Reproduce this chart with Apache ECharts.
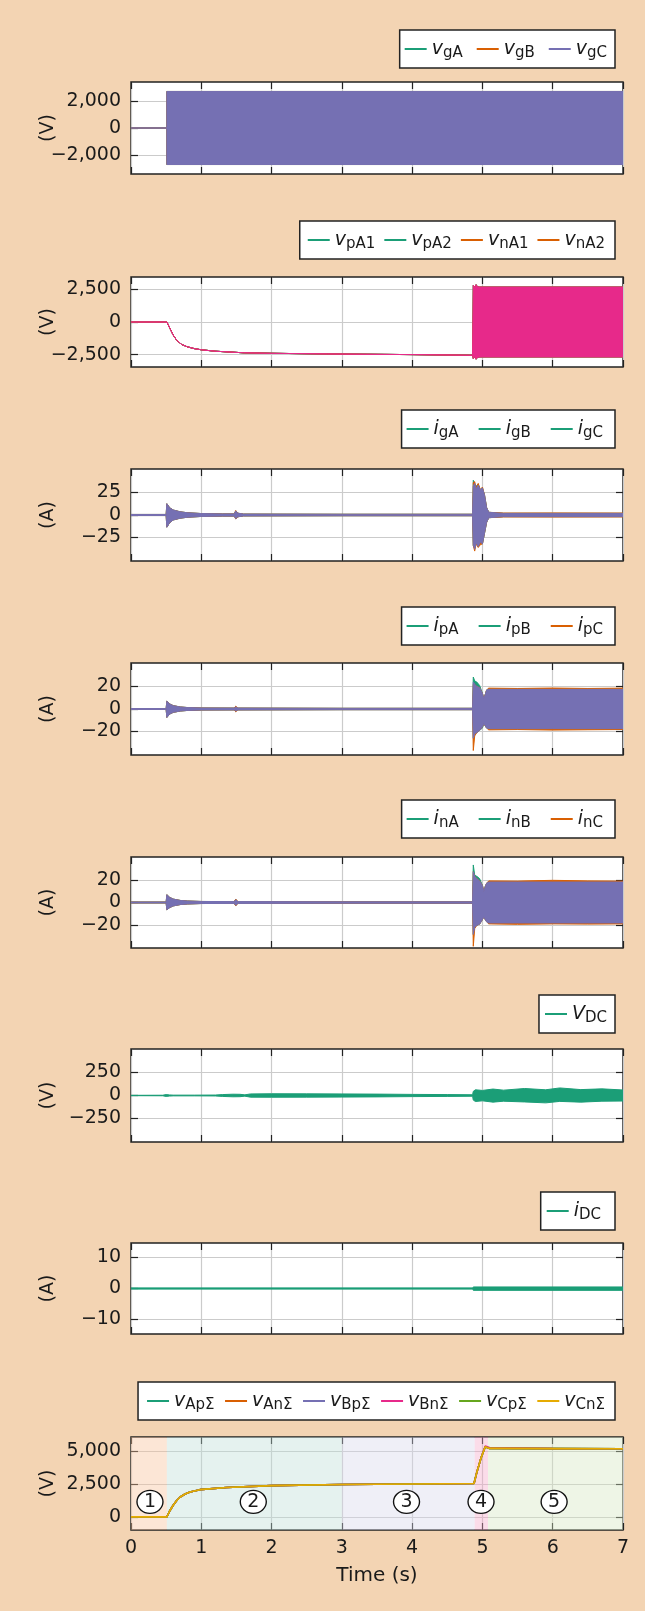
<!DOCTYPE html>
<html>
<head>
<meta charset="utf-8">
<script src="https://cdn.jsdelivr.net/npm/echarts@6/dist/echarts.min.js"></script>
<style>
html,body{margin:0;padding:0;background:#f3d4b3;}
#c{width:645px;height:1611px;}
</style>
</head>
<body>
<div id="c"></div>
<script>
// ================= DATA =================
const timeTicks = [0, 1, 2, 3, 4, 5, 6, 7];

// Panel 1: grid voltages (envelope of the 50 Hz waveform)
const vgT  = [0, 0.51, 0.51, 7];
const vgHi = [0, 0, 2700, 2700];
const vgLo = [0, 0, -2700, -2700];
const vgTicks = [-2000, 0, 2000];

// Panel 2: submodule voltages
const vmT  = [0, 0.51, 0.55, 0.6, 0.65, 0.72, 0.8, 0.9, 1.0, 1.2, 1.6, 2.0, 2.8, 4.0, 4.86, 4.87, 4.89, 4.91, 4.93, 4.96, 7];
const vmHi = [0, 0, -450, -1000, -1400, -1720, -1900, -2040, -2130, -2240, -2360, -2400, -2450, -2500, -2550, 2820, 2650, 2860, 2700, 2680, 2680];
const vmLo = [0, 0, -450, -1000, -1400, -1720, -1900, -2040, -2130, -2240, -2360, -2400, -2450, -2500, -2550, -2800, -2650, -2850, -2720, -2680, -2680];
const vmTicks = [-2500, 0, 2500];

// Panel 3: grid currents
const igT   = [0, 0.5, 0.51, 0.55, 0.6, 0.7, 0.8, 1.0, 1.3, 1.47, 1.49, 1.52, 1.6, 3.0, 4.86, 4.87, 4.89, 4.91, 4.94, 4.97, 5.0, 5.03, 5.06, 5.09, 5.3, 6.0, 7];
const igAHi = [0.6, 0.6, 12.5, 8, 5.5, 3.5, 2.5, 1.6, 1.2, 1.2, 4.5, 2, 1, 0.8, 0.8, 38.5, 34, 32, 34, 28, 30, 22, 8, 3, 1.8, 1.8, 1.8];
const igALo = [-0.6, -0.6, -13.5, -8.5, -5.5, -3.5, -2.5, -1.6, -1.2, -1.2, -4, -2, -1, -0.8, -0.8, -34, -36, -31, -35, -30, -32, -20, -8, -3, -1.8, -1.8, -1.8];
const igBHi = [0.6, 0.6, 12.5, 8, 5.5, 3.5, 2.5, 1.6, 1.2, 1.2, 5, 2, 1, 0.8, 0.8, 36, 37, 30, 35, 28, 31, 22, 8, 3, 2.2, 2.3, 2.2];
const igBLo = [-0.6, -0.6, -13.5, -8.5, -5.5, -3.5, -2.5, -1.6, -1.2, -1.2, -4.5, -2, -1, -0.8, -0.8, -34, -40, -32, -36, -33, -32, -20, -8, -3, -2.2, -2.3, -2.2];
const igCHi = [0.6, 0.6, 12.5, 8, 5.5, 3.5, 2.5, 1.6, 1.2, 1.2, 4.5, 2, 1, 0.8, 0.8, 32, 35, 29, 33, 28, 30, 22, 8, 3, 1.8, 1.8, 1.8];
const igCLo = [-0.6, -0.6, -13.5, -8.5, -5.5, -3.5, -2.5, -1.6, -1.2, -1.2, -4, -2, -1, -0.8, -0.8, -33, -38, -31, -35, -30, -32, -20, -8, -3, -1.8, -1.8, -1.8];
const igTicks = [-25, 0, 25];

// Panel 4: upper-arm currents
const ipT   = [0, 0.5, 0.51, 0.55, 0.6, 0.7, 0.8, 1.0, 1.47, 1.49, 1.52, 3.0, 4.86, 4.87, 4.89, 4.92, 4.96, 5.0, 5.02, 5.04, 5.06, 5.09, 5.5, 6.0, 6.5, 7];
const ipAHi = [0.4, 0.4, 7, 4.5, 3, 1.8, 1.3, 0.9, 0.8, 1.8, 0.8, 0.6, 0.6, 28.5, 25, 24, 21, 14, 9, 13, 17, 17.8, 17.8, 17.8, 17.8, 17.8];
const ipALo = [-0.4, -0.4, -7.5, -4.5, -3, -1.8, -1.3, -0.9, -0.8, -1.8, -0.8, -0.6, -0.6, -26, -22, -21, -19, -17, -13, -15, -17, -17.8, -17.8, -17.8, -17.8, -17.8];
const ipBHi = [0.4, 0.4, 7, 4.5, 3, 1.8, 1.3, 0.9, 0.8, 2.5, 0.8, 0.6, 0.6, 22, 22, 20, 19, 14, 9, 13, 17, 18.6, 18.3, 18.7, 18.3, 18.6];
const ipBLo = [-0.4, -0.4, -7.5, -4.5, -3, -1.8, -1.3, -0.9, -0.8, -2.5, -0.8, -0.6, -0.6, -37, -24, -21, -19, -16, -13, -15, -17, -18.6, -18.3, -18.8, -18.5, -18.3];
const ipCHi = [0.4, 0.4, 7, 4.5, 3, 1.8, 1.3, 0.9, 0.8, 1.8, 0.8, 0.6, 0.6, 24, 22, 20, 19, 14, 9, 13, 17, 17.5, 17.5, 17.5, 17.5, 17.5];
const ipCLo = [-0.4, -0.4, -7.5, -4.5, -3, -1.8, -1.3, -0.9, -0.8, -1.8, -0.8, -0.6, -0.6, -26, -22, -21, -19, -16, -13, -15, -17, -17.5, -17.5, -17.5, -17.5, -17.5];
const ipTicks = [-20, 0, 20];

// Panel 5: lower-arm currents
const inT   = [0, 0.5, 0.51, 0.55, 0.6, 0.7, 0.8, 1.0, 1.47, 1.49, 1.52, 3.0, 4.86, 4.87, 4.89, 4.92, 4.96, 5.0, 5.02, 5.04, 5.06, 5.09, 5.5, 6.0, 6.5, 7];
const inAHi = [0.4, 0.4, 6.8, 4.5, 3, 1.8, 1.3, 0.9, 0.8, 2.5, 0.8, 0.6, 0.6, 33, 24, 23, 21, 15, 9.5, 14, 17, 18.3, 18.3, 18.3, 18.3, 18.3];
const inALo = [-0.4, -0.4, -6.4, -4.5, -3, -1.8, -1.3, -0.9, -0.8, -2.5, -0.8, -0.6, -0.6, -28, -22, -20, -19, -15, -12.5, -15, -17, -18.3, -18.3, -18.3, -18.3, -18.3];
const inBHi = [0.4, 0.4, 6.8, 4.5, 3, 1.8, 1.3, 0.9, 0.8, 3, 0.8, 0.6, 0.6, 27, 23, 21, 19, 15, 9.5, 14, 17, 19, 18.8, 19.5, 19, 18.8];
const inBLo = [-0.4, -0.4, -6.4, -4.5, -3, -1.8, -1.3, -0.9, -0.8, -3, -0.8, -0.6, -0.6, -38.5, -23, -20, -19, -15, -12.5, -15, -17, -18.8, -19.2, -18.8, -19, -18.8];
const inCHi = [0.4, 0.4, 6.8, 4.5, 3, 1.8, 1.3, 0.9, 0.8, 2.5, 0.8, 0.6, 0.6, 27, 23, 21, 19, 15, 9.5, 14, 17, 18, 18, 18, 18, 18];
const inCLo = [-0.4, -0.4, -6.4, -4.5, -3, -1.8, -1.3, -0.9, -0.8, -2.5, -0.8, -0.6, -0.6, -28, -22, -20, -19, -15, -12.5, -15, -17, -18, -18, -18, -18, -18];
const inTicks = [-20, 0, 20];

// Panel 6: DC voltage ripple
const vdcT  = [0, 0.45, 0.5, 0.55, 0.6, 0.9, 1.2, 1.3, 1.45, 1.55, 1.62, 1.7, 2.0, 2.5, 3.0, 3.5, 4.0, 4.5, 4.86, 4.87, 4.9, 5.0, 5.15, 5.3, 5.6, 5.9, 6.1, 6.4, 6.7, 7];
const vdcHi = [2, 3, 10, 6, 4, 4, 5, 10, 14, 13, 7, 17, 19, 18, 17, 15, 12, 10, 8, 45, 62, 55, 70, 58, 76, 62, 82, 64, 72, 60];
const vdcLo = [-2, -3, -10, -6, -4, -4, -5, -10, -14, -13, -7, -18, -19, -18, -17, -15, -12, -10, -8, -50, -65, -58, -72, -62, -70, -80, -64, -72, -62, -60];
const vdcTicks = [-250, 0, 250];

// Panel 7: DC current
const idcT  = [0, 4.86, 4.87, 7];
const idcHi = [0.2, 0.2, 0.5, 0.5];
const idcLo = [-0.2, -0.2, -0.6, -0.6];
const idcTicks = [-10, 0, 10];

// Panel 8: arm capacitor-voltage sums
const sumT   = [0, 0.51, 0.55, 0.6, 0.65, 0.7, 0.77, 0.84, 0.98, 1.36, 2.0, 3.0, 4.0, 4.88, 4.92, 4.98, 5.04, 5.1, 6.0, 7];
const sumV   = [0, 0, 450, 890, 1250, 1520, 1750, 1900, 2080, 2240, 2390, 2470, 2510, 2546, 3400, 4500, 5350, 5230, 5210, 5200];
const sumVBn = [0, 0, 450, 890, 1250, 1520, 1750, 1900, 2080, 2240, 2390, 2470, 2510, 2546, 3400, 4500, 5420, 5300, 5210, 5200];
const sumTicks = [0, 2500, 5000];

// operating stages (shaded) and their labels
const stageStart  = [0, 0.51, 3.0, 4.89, 5.08];
const stageEnd    = [0.51, 3.0, 4.89, 5.08, 7];
const stageLabels = ['1', '2', '3', '4', '5'];
const stageLabelT = [0.27, 1.74, 3.92, 4.98, 6.02];
const stageLabelV = 1150;

// ================= STYLE =================
const FONT = 'DejaVu Sans';
const INK = '#1a1a1a';
const TEAL = '#1b9e77', ORANGE = '#d95f02', PURPLE = '#7570b3', PINK = '#e7298a', GREEN = '#66a61e', YELLOW = '#e6ab02';
const stageColors = ['rgba(248,193,153,0.4)', 'rgba(190,223,215,0.4)', 'rgba(215,215,235,0.4)', 'rgba(245,168,200,0.4)', 'rgba(213,230,193,0.4)'];

function fmtNum(v) {
  const s = Math.abs(v).toString().replace(/\B(?=(\d{3})+(?!\d))/g, ',');
  return (v < 0 ? '\u2212' : '') + s;
}
function legendFmt(name) {
  const k = name.indexOf('_');
  return '{b|' + name.slice(0, k) + '}{s|' + name.slice(k + 1) + '}';
}
const legendRich = {
  b: {fontFamily: FONT, fontStyle: 'italic', fontSize: 19, color: INK, lineHeight: 24},
  s: {fontFamily: FONT, fontSize: 15, color: INK, lineHeight: 15, padding: [9, 0, 0, 0]}
};

const grids = [], xAxes = [], yAxes = [], series = [], legends = [];
const tickStyle = {show: true, inside: true, length: 7, lineStyle: {color: '#222', width: 1.2}};
const splitStyle = {show: true, lineStyle: {color: '#cbcbcb', width: 1.2}};
const noLine = {show: false, onZero: false};

function addPanel(i, p) {
  const last = i === 7;
  grids.push({left: 131, right: 22, top: p.top, height: p.height, show: true,
    backgroundColor: '#fff', borderColor: '#222', borderWidth: 1.5});
  xAxes.push({gridIndex: i, type: 'value', position: 'bottom', min: timeTicks[0], max: timeTicks[timeTicks.length - 1], interval: 1,
    axisLine: noLine, axisTick: tickStyle, splitLine: splitStyle,
    axisLabel: {show: last, color: INK, fontFamily: FONT, fontSize: 19, margin: 9},
    name: last ? 'Time (s)' : '', nameLocation: 'middle', nameGap: 36, nameMoveOverlap: false,
    nameTextStyle: {color: INK, fontFamily: FONT, fontSize: 20}});
  xAxes.push({gridIndex: i, type: 'value', position: 'top', min: timeTicks[0], max: timeTicks[timeTicks.length - 1], interval: 1,
    axisLine: noLine, axisTick: tickStyle, splitLine: {show: false}, axisLabel: {show: false}});
  yAxes.push({gridIndex: i, type: 'value', position: 'left', min: p.min, max: p.max,
    axisLine: noLine,
    axisTick: Object.assign({}, tickStyle, {customValues: p.ticks}),
    axisLabel: {customValues: p.ticks, formatter: fmtNum, color: INK, fontFamily: FONT, fontSize: 19, margin: 10},
    splitLine: splitStyle,
    name: p.unit, nameLocation: 'middle', nameGap: 73, nameMoveOverlap: false,
    nameTextStyle: {color: INK, fontFamily: FONT, fontSize: 19}});
  yAxes.push({gridIndex: i, type: 'value', position: 'right', min: p.min, max: p.max,
    axisLine: noLine,
    axisTick: Object.assign({}, tickStyle, {customValues: p.ticks}),
    axisLabel: {show: false}, splitLine: {show: false}});
  legends.push({
    top: p.legendTop, right: 30, orient: 'horizontal', selectedMode: false,
    icon: 'rect', itemWidth: 22, itemHeight: 2, itemGap: p.legendGap,
    backgroundColor: '#fff', borderColor: '#222', borderWidth: 1.5, padding: p.legendPad,
    data: p.names.map((n, k) => ({name: n, itemStyle: {color: p.legendColors[k]}})),
    formatter: legendFmt,
    textStyle: {fontFamily: FONT, color: INK, rich: legendRich}
  });
}

// envelope band of a fast oscillation: filled polygon between hi and lo, mapped via api.coord
function band(gi, name, color, T, hi, lo) {
  series.push({
    type: 'custom', name: name, xAxisIndex: 2 * gi, yAxisIndex: 2 * gi, silent: true, clip: true,
    itemStyle: {color: color},
    data: T.map((t, k) => [t, hi[k], lo[k]]),
    encode: {x: 0, y: [1, 2]},
    renderItem: function (params, api) {
      if (params.dataIndex !== 0) return null;
      const pts = [];
      for (let k = 0; k < T.length; k++) pts.push(api.coord([T[k], hi[k]]));
      for (let k = T.length - 1; k >= 0; k--) pts.push(api.coord([T[k], lo[k]]));
      return {type: 'polygon', shape: {points: pts},
        style: {fill: color, stroke: color, lineWidth: 1, lineJoin: 'round'}};
    }
  });
}

function plainLine(gi, name, color, T, V, extra) {
  series.push(Object.assign({type: 'line', name: name, xAxisIndex: 2 * gi, yAxisIndex: 2 * gi,
    symbol: 'none', silent: true, itemStyle: {color: color}, lineStyle: {color: color, width: 1.6},
    data: T.map((t, k) => [t, V[k]])}, extra || {}));
}

// ---- panels ----
addPanel(0, {unit: '(V)', min: -3400, max: 3400, ticks: vgTicks, top: 82, height: 92,
  legendTop: 30, legendGap: 14, legendPad: [7, 8, 7, 5],
  names: ['v_gA', 'v_gB', 'v_gC'], legendColors: [TEAL, ORANGE, PURPLE]});
band(0, 'v_gA', TEAL, vgT, vgHi, vgLo);
band(0, 'v_gB', ORANGE, vgT, vgHi, vgLo);
band(0, 'v_gC', PURPLE, vgT, vgHi, vgLo);

addPanel(1, {unit: '(V)', min: -3450, max: 3450, ticks: vmTicks, top: 277, height: 90,
  legendTop: 221, legendGap: 9, legendPad: [7, 10, 7, 8],
  names: ['v_pA1', 'v_pA2', 'v_nA1', 'v_nA2'], legendColors: [TEAL, TEAL, ORANGE, ORANGE]});
band(1, 'v_pA1', TEAL, vmT, vmHi, vmLo);
band(1, 'v_pA2', TEAL, vmT, vmHi, vmLo);
band(1, 'v_nA1', ORANGE, vmT, vmHi, vmLo);
band(1, 'v_nA2', PINK, vmT, vmHi, vmLo);

addPanel(2, {unit: '(A)', min: -51, max: 51, ticks: igTicks, top: 469, height: 92,
  legendTop: 410, legendGap: 20, legendPad: [7, 12, 7, 5],
  names: ['i_gA', 'i_gB', 'i_gC'], legendColors: [TEAL, TEAL, TEAL]});
band(2, 'i_gA', TEAL, igT, igAHi, igALo);
band(2, 'i_gB', ORANGE, igT, igBHi, igBLo);
band(2, 'i_gC', PURPLE, igT, igCHi, igCLo);

addPanel(3, {unit: '(A)', min: -41, max: 41, ticks: ipTicks, top: 663, height: 92,
  legendTop: 607, legendGap: 20, legendPad: [7, 12, 7, 5],
  names: ['i_pA', 'i_pB', 'i_pC'], legendColors: [TEAL, TEAL, ORANGE]});
band(3, 'i_pA', TEAL, ipT, ipAHi, ipALo);
band(3, 'i_pB', ORANGE, ipT, ipBHi, ipBLo);
band(3, 'i_pC', PURPLE, ipT, ipCHi, ipCLo);

addPanel(4, {unit: '(A)', min: -40, max: 40, ticks: inTicks, top: 857, height: 91,
  legendTop: 800, legendGap: 20, legendPad: [7, 12, 7, 5],
  names: ['i_nA', 'i_nB', 'i_nC'], legendColors: [TEAL, TEAL, ORANGE]});
band(4, 'i_nA', TEAL, inT, inAHi, inALo);
band(4, 'i_nB', ORANGE, inT, inBHi, inBLo);
band(4, 'i_nC', PURPLE, inT, inCHi, inCLo);

addPanel(5, {unit: '(V)', min: -505, max: 505, ticks: vdcTicks, top: 1049, height: 93,
  legendTop: 995, legendGap: 10, legendPad: [7, 8, 7, 6],
  names: ['V_DC'], legendColors: [TEAL]});
band(5, 'V_DC', TEAL, vdcT, vdcHi, vdcLo);

addPanel(6, {unit: '(A)', min: -14.7, max: 14.7, ticks: idcTicks, top: 1243, height: 91,
  legendTop: 1192, legendGap: 10, legendPad: [7, 14, 7, 6],
  names: ['i_DC'], legendColors: [TEAL]});
band(6, 'i_DC', TEAL, idcT, idcHi, idcLo);

addPanel(7, {unit: '(V)', min: -1000, max: 6100, ticks: sumTicks, top: 1437, height: 93,
  legendTop: 1382, legendGap: 10.5, legendPad: [7, 10, 7, 9],
  names: ['v_ApΣ', 'v_AnΣ', 'v_BpΣ', 'v_BnΣ', 'v_CpΣ', 'v_CnΣ'],
  legendColors: [TEAL, ORANGE, PURPLE, PINK, GREEN, YELLOW]});
plainLine(7, 'v_ApΣ', TEAL, sumT, sumV, {
  markArea: {silent: true,
    data: stageStart.map((s, k) => [{xAxis: s, itemStyle: {color: stageColors[k]}}, {xAxis: stageEnd[k]}])}
});
plainLine(7, 'v_AnΣ', ORANGE, sumT, sumV);
plainLine(7, 'v_BpΣ', PURPLE, sumT, sumV);
plainLine(7, 'v_BnΣ', PINK, sumT, sumVBn);
plainLine(7, 'v_CpΣ', GREEN, sumT, sumV);
plainLine(7, 'v_CnΣ', YELLOW, sumT, sumV, {
  markPoint: {silent: true, symbol: 'circle', symbolSize: [26, 23],
    itemStyle: {color: '#fff', borderColor: '#111', borderWidth: 1.3},
    label: {show: true, position: 'inside', formatter: '{c}', color: INK, fontFamily: FONT, fontSize: 19},
    data: stageLabelT.map((t, k) => ({coord: [t, stageLabelV], value: stageLabels[k]}))}
});

const chart = echarts.init(document.getElementById('c'), null, {renderer: 'canvas'});
chart.setOption({
  backgroundColor: '#f3d4b3',
  animation: false,
  grid: grids, xAxis: xAxes, yAxis: yAxes, legend: legends, series: series
});
</script>
</body>
</html>
